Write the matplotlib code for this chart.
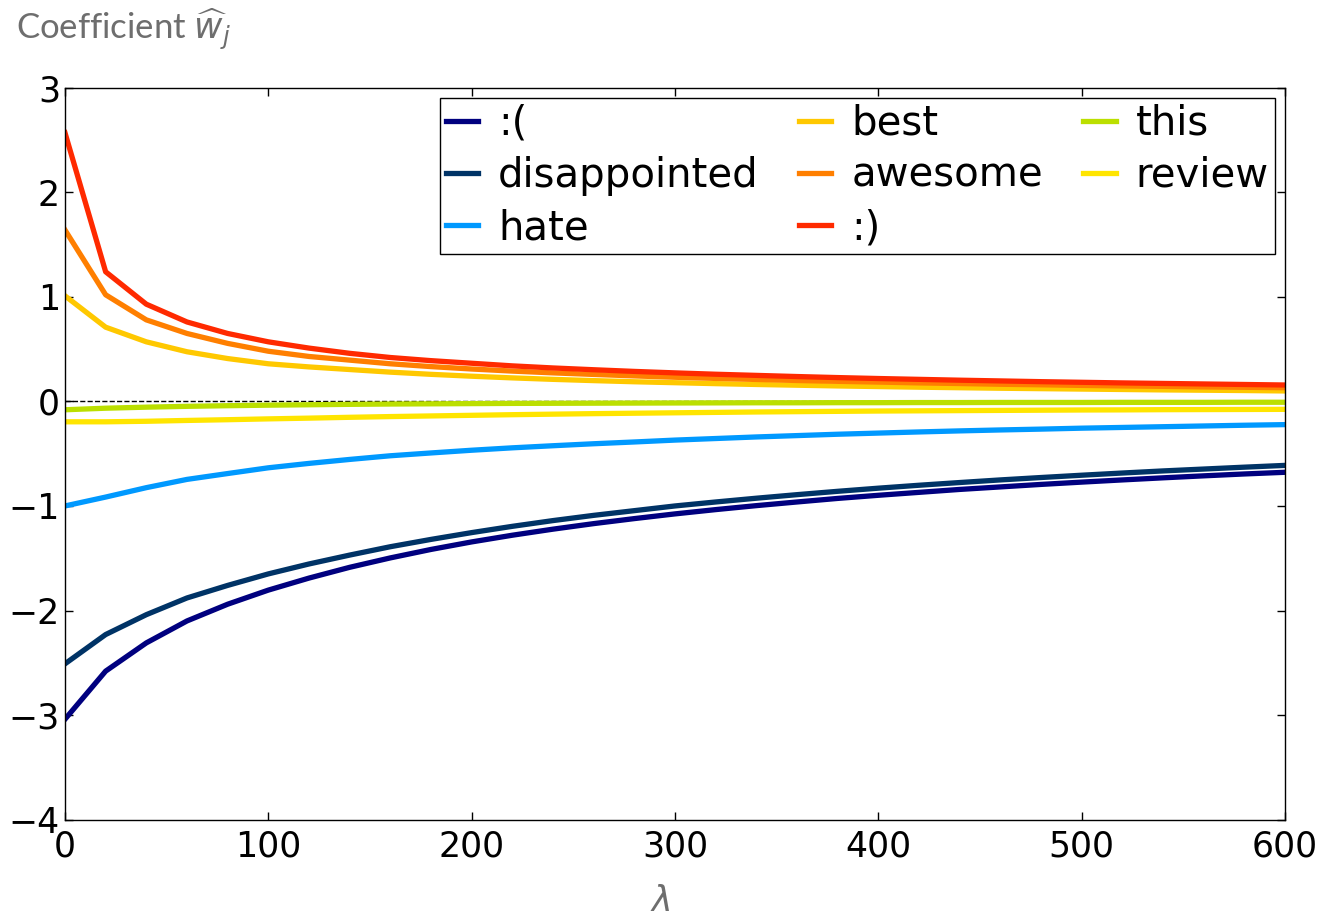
import numpy as np
import matplotlib
matplotlib.use('Agg')
import matplotlib.pyplot as plt

lambdas = np.arange(0, 601, 20)

words = [':(', 'disappointed', 'hate', 'best', 'awesome', ':)', 'this', 'review']
colors = ['#00007f', '#003366', '#0099ff', '#ffc800', '#ff7f00', '#ff2a00', '#bbdf00', '#ffe500']

w_sad = [-3.04, -2.58, -2.31, -2.10, -1.94, -1.805, -1.69, -1.587, -1.497, -1.416,
         -1.344, -1.280, -1.222, -1.169, -1.121, -1.076, -1.035, -0.997, -0.962, -0.928,
         -0.898, -0.870, -0.842, -0.818, -0.794, -0.772, -0.751, -0.731, -0.712, -0.694, -0.678]
w_disappointed = [-2.51, -2.23, -2.04, -1.88, -1.76, -1.65, -1.555, -1.47, -1.39, -1.32,
                  -1.255, -1.195, -1.14, -1.09, -1.045, -1.00, -0.962, -0.926, -0.892, -0.86,
                  -0.83, -0.802, -0.776, -0.751, -0.728, -0.706, -0.685, -0.665, -0.647, -0.629, -0.612]
w_hate = [-1.0, -0.915, -0.825, -0.746, -0.69, -0.635, -0.593, -0.555, -0.52, -0.493,
          -0.467, -0.444, -0.424, -0.405, -0.388, -0.37, -0.355, -0.34, -0.327, -0.314,
          -0.303, -0.292, -0.282, -0.273, -0.265, -0.256, -0.249, -0.242, -0.235, -0.228, -0.222]
w_best = [1.01, 0.71, 0.57, 0.475, 0.41, 0.36, 0.33, 0.305, 0.28, 0.259,
          0.241, 0.225, 0.211, 0.199, 0.188, 0.179, 0.170, 0.162, 0.155, 0.148,
          0.142, 0.136, 0.131, 0.126, 0.122, 0.118, 0.114, 0.110, 0.107, 0.104, 0.100]
w_awesome = [1.64, 1.02, 0.78, 0.65, 0.555, 0.48, 0.43, 0.395, 0.36, 0.333,
             0.31, 0.29, 0.273, 0.258, 0.244, 0.231, 0.22, 0.21, 0.20, 0.192,
             0.185, 0.177, 0.171, 0.164, 0.159, 0.153, 0.148, 0.144, 0.139, 0.135, 0.131]
w_happy = [2.57, 1.24, 0.93, 0.76, 0.65, 0.57, 0.51, 0.46, 0.42, 0.39,
           0.365, 0.34, 0.32, 0.303, 0.287, 0.273, 0.26, 0.249, 0.238, 0.228,
           0.219, 0.211, 0.203, 0.196, 0.189, 0.183, 0.177, 0.172, 0.167, 0.162, 0.157]
w_this = [-0.08, -0.065, -0.055, -0.047, -0.041, -0.036, -0.032, -0.028, -0.025, -0.023,
          -0.021, -0.019, -0.018, -0.017, -0.016, -0.015, -0.014, -0.013, -0.013, -0.012,
          -0.012, -0.011, -0.011, -0.010, -0.010, -0.010, -0.009, -0.009, -0.009, -0.008, -0.008]
w_review = [-0.195, -0.195, -0.19, -0.182, -0.175, -0.167, -0.16, -0.152, -0.145, -0.139,
            -0.133, -0.127, -0.122, -0.117, -0.113, -0.109, -0.105, -0.101, -0.098, -0.095,
            -0.092, -0.09, -0.088, -0.086, -0.084, -0.082, -0.081, -0.079, -0.078, -0.077, -0.076]

paths = [w_sad, w_disappointed, w_hate, w_best, w_awesome, w_happy, w_this, w_review]

fig = plt.figure(figsize=(13.26, 9.24), dpi=100)
ax = fig.add_axes([0.049, 0.113, 0.92, 0.792])

ax.axhline(0, color='k', ls='--', lw=1)
for word, col, w in zip(words, colors, paths):
    ax.plot(lambdas, w, color=col, lw=3.8, label=word)

ax.set_xlim(0, 600)
ax.set_ylim(-4, 3)
ax.set_xticks(range(0, 601, 100))
ax.set_yticks(range(-4, 4))
ax.set_yticklabels(['\u22124', '\u22123', '\u22122', '\u22121', '0', '1', '2', '3'])
ax.tick_params(direction='in', top=True, right=True, labelsize=25, length=6, width=1)
ax.tick_params(axis='x', pad=7)
for s in ax.spines.values():
    s.set_linewidth(1)

leg = ax.legend(loc='upper right', ncol=3, fontsize=29, handlelength=0.8,
                handletextpad=0.5, columnspacing=1.0, labelspacing=0.3,
                borderpad=0.15, borderaxespad=0.25, fancybox=False,
                edgecolor='k', framealpha=1)
leg.get_frame().set_linewidth(1)

fig.text(0.012, 0.968, r'Coefficient $\widehat{w}_j$', fontsize=25, color='#6e6e6e',
         family='Lato', va='center')
fig.text(0.498, 0.025, r'$\lambda$', fontsize=25, color='#6e6e6e', ha='center', va='center')

plt.savefig('out.png', dpi=100)
